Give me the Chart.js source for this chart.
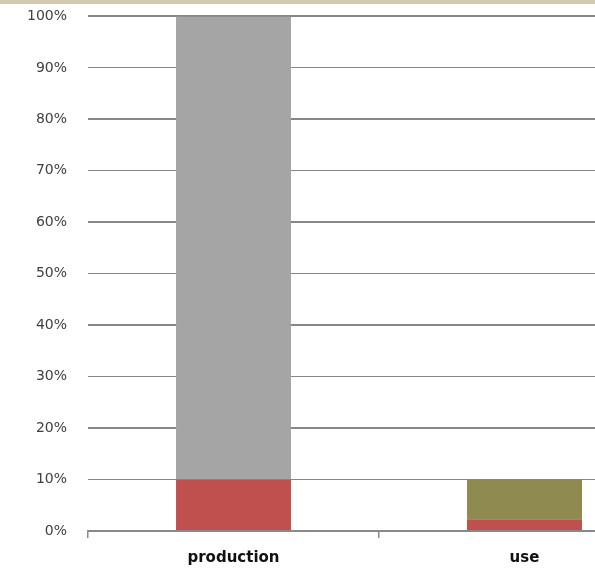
<!DOCTYPE html>
<html>
<head>
<meta charset="utf-8">
<script src="https://cdn.jsdelivr.net/npm/chart.js@4"></script>
<style>
  html, body { margin: 0; padding: 0; background: #fff; overflow: hidden; }
  #wrap { width: 595px; height: 570px; overflow: hidden; position: relative; }
  #strip { position: absolute; left: 0; top: 0; width: 595px; height: 4px; background: #d1c9b2; z-index: 2; }
  #box { position: absolute; left: 0; top: -13px; width: 670px; height: 583px; }
</style>
</head>
<body>
<div id="wrap">
  <div id="strip"></div>
  <div id="box"><canvas id="shareChart" width="670" height="583"></canvas></div>
</div>
<script>
var categories = ['production', 'use'];
var redPart = [10, 2.3];
var grayPart = [90, 0];
var olivePart = [0, 7.7];

var ctx = document.getElementById('shareChart').getContext('2d');

var shareChart = new Chart(ctx, {
    type: 'bar',
    data: {
        labels: categories,
        datasets: [{
            label: 'red',
            data: redPart,
            backgroundColor: '#c0504d',
            barPercentage: 0.395,
            categoryPercentage: 1
        }, {
            label: 'gray',
            data: grayPart,
            backgroundColor: '#a5a5a5',
            barPercentage: 0.395,
            categoryPercentage: 1
        }, {
            label: 'olive',
            data: olivePart,
            backgroundColor: '#8f8a50',
            barPercentage: 0.395,
            categoryPercentage: 1
        }]
    },
    options: {
        responsive: false,
        animation: false,
        layout: { padding: { top: 2, left: 0, right: 0, bottom: 0 } },
        plugins: {
            legend: { display: false },
            tooltip: { enabled: false }
        },
        scales: {
            x: {
                stacked: true,
                border: { display: true, color: '#8a8a8a', width: 1.5 },
                grid: { display: true, drawOnChartArea: false, drawTicks: true, tickLength: 7, color: '#8a8a8a', lineWidth: 1.5 },
                ticks: {
                    color: '#111',
                    padding: 11,
                    font: { family: 'DejaVu Sans', size: 15, weight: 'bold' }
                },
                afterFit: function (scale) { scale.height = 39; }
            },
            y: {
                stacked: true,
                min: 0,
                max: 100,
                border: { display: false },
                grid: {
                    drawTicks: false,
                    color: '#878787',
                    lineWidth: function (c) { return (c.index % 2 === 0) ? 2 : 1; }
                },
                ticks: {
                    stepSize: 10,
                    padding: 21,
                    color: '#404040',
                    font: { family: 'DejaVu Sans', size: 14 },
                    callback: function (v) { return v + '%'; }
                },
                afterFit: function (scale) { scale.width = 88; }
            }
        }
    }
});
</script>
</body>
</html>
